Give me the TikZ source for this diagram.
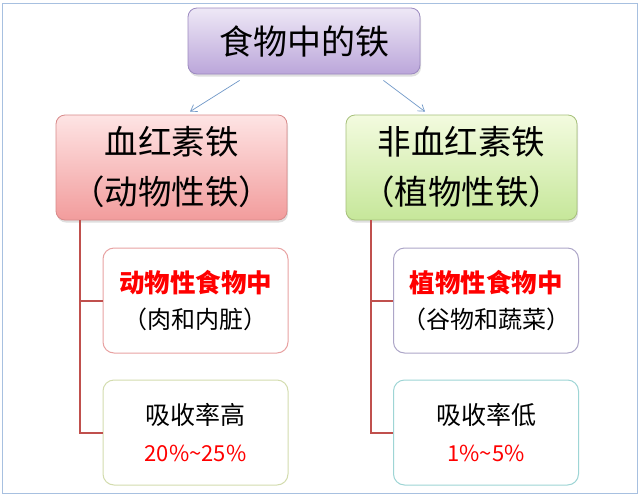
\documentclass[tikz,border=0pt]{standalone}
\usepackage{fontspec}
\newfontfamily\cjk{Noto Sans CJK SC}
\usetikzlibrary{shadows,arrows.meta}
\definecolor{framec}{HTML}{A7C0E0}
\definecolor{toptop}{HTML}{EEE8F6}
\definecolor{topbot}{HTML}{BBA6DA}
\definecolor{topbd}{HTML}{9C8AC0}
\definecolor{redtop}{HTML}{FEE4E4}
\definecolor{redbot}{HTML}{F29C9C}
\definecolor{redbd}{HTML}{D88A8A}
\definecolor{grntop}{HTML}{F3FBDF}
\definecolor{grnbot}{HTML}{C6E79A}
\definecolor{grnbd}{HTML}{A6C07A}
\definecolor{arrowc}{HTML}{7098C8}
\definecolor{linkc}{HTML}{C0504D}
\definecolor{bdA}{HTML}{E8A2A2}
\definecolor{bdB}{HTML}{D3DCAE}
\definecolor{bdC}{HTML}{ADA6C8}
\definecolor{bdD}{HTML}{9ED5D5}
\definecolor{txtred}{HTML}{FF0000}
\tikzset{
  mainbox/.style={draw=#1, line width=0.8pt, rounded corners=9pt, inner sep=0pt,
    align=center, font=\cjk\fontsize{33.5}{50}\selectfont,
    drop shadow={opacity=0.25, shadow xshift=1pt, shadow yshift=-2.5pt}},
  subbox/.style={draw=#1, fill=white, line width=1pt, rounded corners=11pt, inner sep=0pt,
    minimum width=185pt, minimum height=105pt, align=center},
  bluearrow/.style={draw=arrowc, line width=0.7pt, -{Straight Barb[length=6pt,width=8pt]}},
  redlink/.style={draw=linkc, line width=2pt},
  redtxt/.style={text=txtred},
}
\begin{document}
\begin{tikzpicture}[x=1pt,y=-1pt]
\useasboundingbox (0,0) rectangle (640,496);
\fill[white] (0,0) rectangle (640,496);
\draw[framec, line width=1pt] (2,3) rectangle (637,493);

\node[mainbox=topbd, top color=toptop, bottom color=topbot,
  minimum width=232pt, minimum height=66pt, font=\cjk\fontsize{34}{40}\selectfont]
  (top) at (304,41) {食物中的铁};
\node[mainbox=redbd, top color=redtop, bottom color=redbot,
  minimum width=231pt, minimum height=105pt]
  (L) at (171.5,167.5) {血红素铁\\（动物性铁）};
\node[mainbox=grnbd, top color=grntop, bottom color=grnbot,
  minimum width=231pt, minimum height=105pt]
  (R) at (461.5,167.5) {非血红素铁\\（植物性铁）};

\draw[bluearrow] ([xshift=52pt,yshift=-6pt]top.south west) -- ([xshift=18.5pt,yshift=3pt]L.north);
\draw[bluearrow] ([xshift=-37pt,yshift=-6pt]top.south east) -- ([xshift=-36.5pt,yshift=3pt]R.north);

\node[subbox=bdA, font=\cjk\fontsize{24}{36}\selectfont] (L1) at (195.5,300.5)
  {{\bfseries\color{txtred}\fontsize{25.5}{36}\selectfont 动物性食物中}\\（肉和内脏）};
\node[subbox=bdB, font=\cjk\fontsize{25}{37}\selectfont] (L2) at (195.5,432.5)
  {吸收率高\\{\color{txtred}\fontsize{22}{37}\selectfont 20\%\textasciitilde 25\%}};
\node[subbox=bdC, font=\cjk\fontsize{24}{36}\selectfont] (R1) at (486,300.5)
  {{\bfseries\color{txtred}\fontsize{25.5}{36}\selectfont 植物性食物中}\\（谷物和蔬菜）};
\node[subbox=bdD, font=\cjk\fontsize{25}{37}\selectfont] (R2) at (486,432.5)
  {吸收率低\\{\color{txtred}\fontsize{22}{37}\selectfont 1\%\textasciitilde 5\%}};

\draw[redlink] ([xshift=24pt]L.south west) |- (L2.west);
\draw[redlink] ([xshift=24pt]L.south west) |- (L1.west);
\draw[redlink] ([xshift=25pt]R.south west) |- (R2.west);
\draw[redlink] ([xshift=25pt]R.south west) |- (R1.west);
\end{tikzpicture}
\end{document}
